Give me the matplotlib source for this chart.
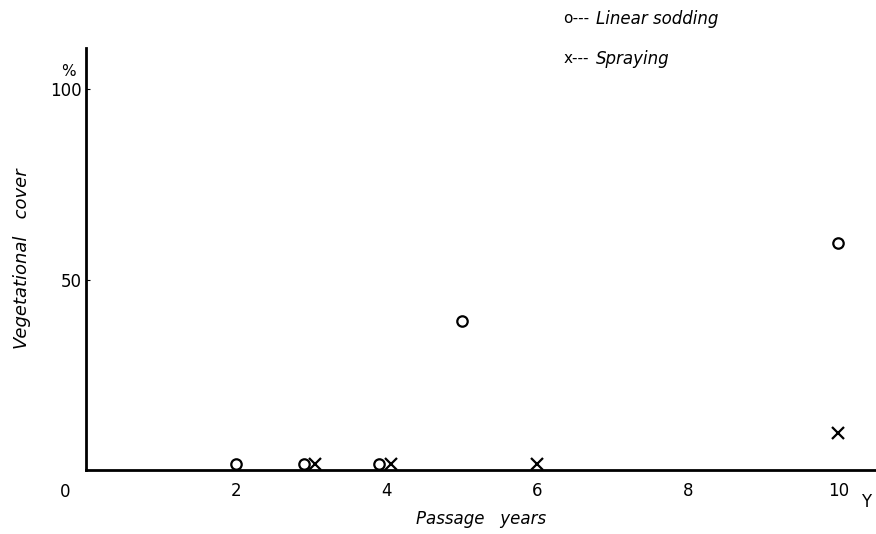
import matplotlib
matplotlib.use("Agg")
import matplotlib.pyplot as plt

# Values
sodding_years = [2.0, 2.9, 3.9, 5.0, 10.0]
sodding_cover = [1.6, 1.6, 1.6, 39.2, 59.6]
spraying_years = [3.05, 4.05, 6.0, 10.0]
spraying_cover = [1.6, 1.6, 1.6, 9.7]

x_ticks = [2, 4, 6, 8, 10]
y_ticks = [50, 100]

fig = plt.figure(figsize=(8.76, 5.34), dpi=100)
ax = fig.add_axes([0.098, 0.12, 0.902, 0.79])

ax.plot(sodding_years, sodding_cover, "o", mfc="white", mec="black", mew=1.6, ms=7.5, ls="none")
ax.plot(spraying_years, spraying_cover, "x", color="black", mew=1.6, ms=9, ls="none")

ax.set_xlim(0, 10.5)
ax.set_ylim(0, 110.8)
ax.spines["top"].set_visible(False)
ax.spines["right"].set_visible(False)
ax.spines["left"].set_linewidth(2)
ax.spines["bottom"].set_linewidth(2)

ax.set_xticks(x_ticks)
ax.set_yticks(y_ticks)
ax.tick_params(axis="x", length=0, pad=9, labelsize=12)
ax.tick_params(axis="y", length=3, direction="in", pad=3, labelsize=12)

ax.text(-0.27, -5.8, "0", ha="center", va="center", fontsize=12)
ax.text(10.37, -8.4, "Y", ha="center", va="center", fontsize=12)
ax.text(-0.13, 104.7, "%", ha="right", va="center", fontsize=11)

ax.set_xlabel("Passage   years", fontstyle="italic", fontsize=12, labelpad=7)
ax.set_ylabel("Vegetational   cover", fontstyle="italic", fontsize=13, labelpad=14)

fig.text(0.643, 0.965, "o---", ha="left", va="center", fontsize=11)
fig.text(0.68, 0.965, "Linear sodding", ha="left", va="center", fontsize=12, fontstyle="italic")
fig.text(0.643, 0.89, "x---", ha="left", va="center", fontsize=11)
fig.text(0.68, 0.89, "Spraying", ha="left", va="center", fontsize=12, fontstyle="italic")

fig.savefig("out.png", dpi=100)
